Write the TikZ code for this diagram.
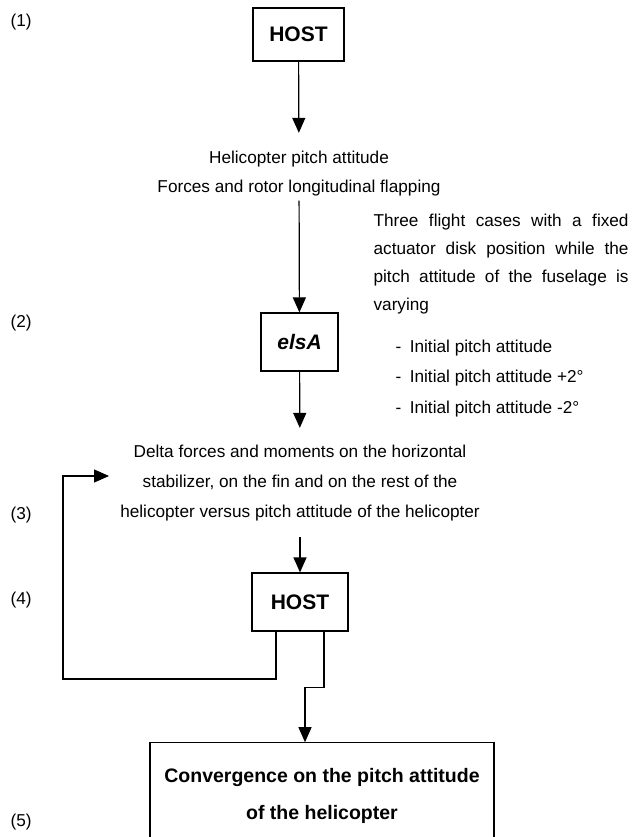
\documentclass[tikz,border=0pt]{standalone}
\usepackage{fontspec}
\setmainfont{Liberation Sans}
\usetikzlibrary{arrows.meta,positioning}

\begin{document}
\begin{tikzpicture}[x=1pt, y=-1pt, line width=1.2pt]
        % basic settings
        \tikzstyle{flow} = [-{Triangle[width=13pt,length=15pt]}]
        \tikzstyle{body} = [font=\fontsize{17.2}{28.5}\selectfont, align=center, inner sep=4pt]
        \tikzstyle{hostbox} = [draw, minimum height=55pt, inner sep=0pt, font=\fontsize{21}{24}\selectfont\bfseries]

        \useasboundingbox (0,0) rectangle (636,837);
        \clip (0,0) rectangle (636,837);

        % 1. step numbers on the left
        \foreach \n/\y in {1/22, 2/323, 3/515, 4/600, 5/822}
            \node[body, anchor=west] (lab\n) at (6,\y) {(\n)};

        % 2. first HOST and pitch attitude
        \node[hostbox, minimum width=91pt, minimum height=53pt] (host1) at (298.5,34.5) {HOST};
        \node[body] (pitch) at (299,173.7) {Helicopter pitch attitude\\Forces and rotor longitudinal flapping};
        \draw[flow, shorten >=14pt] (host1) -- (pitch);

        % flight cases on the right
        \node[body, anchor=north west, inner sep=0pt, text width=255pt, align=justify,
              font=\fontsize{17.2}{28}\selectfont] (cases) at (373,213.4)
            {\hyphenpenalty=10000 Three flight cases with a fixed\linebreak actuator disk position while the\linebreak
             pitch attitude of the fuselage is\linebreak varying};
        \node[body, anchor=north west, inner sep=0pt, align=left,
              font=\fontsize{17.2}{30.5}\selectfont] (caselist) at (395,339.4)
            {-\hspace{8.5pt}Initial pitch attitude\\
             -\hspace{8.5pt}Initial pitch attitude +2°\\
             -\hspace{8.5pt}Initial pitch attitude -2°};

        % 3. elsA
        \node[hostbox, minimum width=77pt, minimum height=58pt, font=\fontsize{21}{24}\selectfont\bfseries\itshape] (elsA) at (299.5,342) {elsA};
        \draw[flow] (pitch) -- (elsA);

        % delta forces
        \node[body, font=\fontsize{17.2}{30}\selectfont] (delta) at (300,483.5)
            {Delta forces and moments on the horizontal\\stabilizer, on the fin and on the rest of the\\helicopter versus pitch attitude of the helicopter};
        \draw[flow, shorten >=13pt] (elsA) -- (delta);

        % 4. second HOST with the loop back
        \node[hostbox, minimum width=96pt, minimum height=58pt] (host2) at (300,602) {HOST};
        \draw[flow, shorten <=11pt] (delta) -- (host2);
        \coordinate (fbin) at (109,476);
        \draw[flow] ([xshift=-24pt]host2.south) |- (63,679) |- (fbin);

        % 5. convergence
        \node[draw, minimum width=344pt, inner ysep=26pt, align=center,
              font=\fontsize{19.5}{37}\selectfont\bfseries] (conv) at (322,796.4)
            {Convergence on the pitch attitude\\of the helicopter};
        \draw[flow] ([xshift=24pt]host2.south) -- ++(0,56) -| ([xshift=-17pt]conv.north);

\end{tikzpicture}
\end{document}
